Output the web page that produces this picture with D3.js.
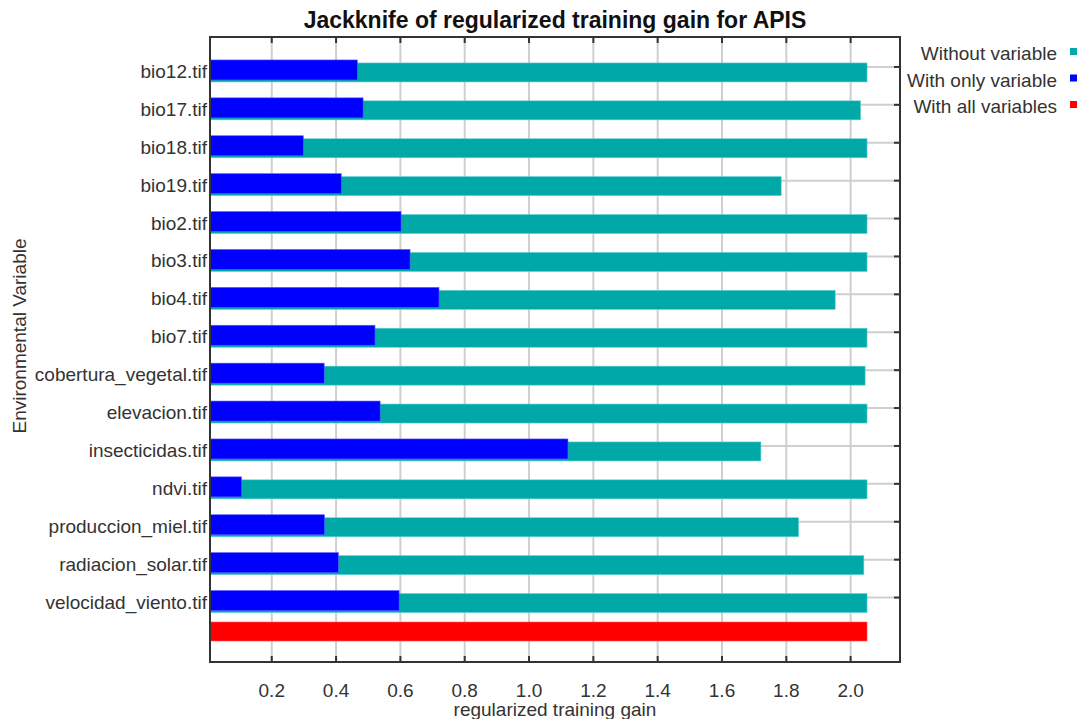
<!DOCTYPE html>
<html>
<head>
<meta charset="utf-8">
<script src="https://cdn.jsdelivr.net/npm/d3@7"></script>
<style>
  html, body { margin: 0; padding: 0; background: #fff; }
  svg { display: block; }
  text { font-family: "Liberation Sans", Arial, sans-serif; fill: #333; }
</style>
</head>
<body>
<svg id="chart" width="1085" height="719"></svg>
<script>
// Environmental variables used in the model
const variables = [
  "bio12.tif", "bio17.tif", "bio18.tif", "bio19.tif", "bio2.tif",
  "bio3.tif", "bio4.tif", "bio7.tif", "cobertura_vegetal.tif",
  "elevacion.tif", "insecticidas.tif", "ndvi.tif", "produccion_miel.tif",
  "radiacion_solar.tif", "velocidad_viento.tif"
];
// Regularized training gain when the variable is left out
const withoutVariable = [
  2.051, 2.031, 2.051, 1.784, 2.051, 2.051, 1.952, 2.051, 2.045,
  2.051, 1.721, 2.051, 1.838, 2.041, 2.051
];
// Gain using only that variable
const withOnlyVariable = [
  0.466, 0.484, 0.298, 0.416, 0.602, 0.630, 0.720, 0.521, 0.363,
  0.537, 1.121, 0.106, 0.364, 0.407, 0.596
];
// Gain with all variables
const withAllVariables = 2.051;
const xTicks = [0.2, 0.4, 0.6, 0.8, 1.0, 1.2, 1.4, 1.6, 1.8, 2.0];
const legendItems = [
  { label: "Without variable", color: "#00a8a8" },
  { label: "With only variable", color: "#0000ff" },
  { label: "With all variables", color: "#ff0000" }
];

const svg = d3.select("#chart");
const plot = { left: 210, right: 900, top: 37, bottom: 662 };
const axisColor = "#333";
const gridColor = "#cfcfcf";

const x = d3.scaleLinear().domain([0.008, 2.1535]).range([plot.left, plot.right]);
const y = d3.scaleBand().domain(variables).range([52, 620.5]).padding(0);
const rowCenter = v => y(v) + y.bandwidth() / 2;

const rows = variables.map((v, i) => ({ name: v, without: withoutVariable[i], only: withOnlyVariable[i] }));

// grid
const grid = svg.append("g");
grid.selectAll("line.v").data(xTicks).join("line")
  .attr("x1", d => x(d)).attr("x2", d => x(d))
  .attr("y1", plot.top).attr("y2", plot.bottom)
  .attr("stroke", gridColor).attr("stroke-width", 2);
grid.selectAll("line.h").data(rows).join("line")
  .attr("x1", plot.left).attr("x2", plot.right)
  .attr("y1", d => rowCenter(d.name) - 4).attr("y2", d => rowCenter(d.name) - 4)
  .attr("stroke", gridColor).attr("stroke-width", 2);

// bars
const bars = svg.append("g");
bars.selectAll("rect.without").data(rows).join("rect")
  .attr("x", x(x.domain()[0]))
  .attr("y", d => rowCenter(d.name) - 8)
  .attr("width", d => x(d.without) - x(x.domain()[0]))
  .attr("height", 19)
  .attr("fill", legendItems[0].color)
  .attr("stroke", "#5fd0d0").attr("stroke-width", 0.6);
bars.selectAll("rect.only").data(rows).join("rect")
  .attr("x", x(x.domain()[0]))
  .attr("y", d => rowCenter(d.name) - 11)
  .attr("width", d => x(d.only) - x(x.domain()[0]))
  .attr("height", 20)
  .attr("fill", legendItems[1].color)
  .attr("stroke", "#5a5aff").attr("stroke-width", 0.6);
bars.append("rect")
  .attr("x", x(x.domain()[0]))
  .attr("y", y.range()[1] + 1.5)
  .attr("width", x(withAllVariables) - x(x.domain()[0]))
  .attr("height", 19)
  .attr("fill", legendItems[2].color)
  .attr("stroke", "#ff6060").attr("stroke-width", 0.6);

// frame
svg.append("rect")
  .attr("x", plot.left).attr("y", plot.top)
  .attr("width", plot.right - plot.left).attr("height", plot.bottom - plot.top)
  .attr("fill", "none").attr("stroke", axisColor).attr("stroke-width", 2);

// tick marks
const ticks = svg.append("g").attr("stroke", axisColor).attr("stroke-width", 2);
ticks.selectAll("line.b").data(xTicks).join("line")
  .attr("x1", d => x(d)).attr("x2", d => x(d))
  .attr("y1", plot.bottom).attr("y2", plot.bottom - 6);
ticks.selectAll("line.t").data(xTicks).join("line")
  .attr("x1", d => x(d)).attr("x2", d => x(d))
  .attr("y1", plot.top).attr("y2", plot.top + 6);
ticks.selectAll("line.r").data(rows).join("line")
  .attr("x1", plot.right).attr("x2", plot.right - 6)
  .attr("y1", d => rowCenter(d.name) - 4).attr("y2", d => rowCenter(d.name) - 4);

// labels
const fs = "19px";
svg.append("g").selectAll("text").data(xTicks).join("text")
  .attr("x", d => x(d)).attr("y", 697)
  .attr("text-anchor", "middle").style("font-size", fs)
  .text(d => d.toFixed(1));
svg.append("g").selectAll("text").data(rows).join("text")
  .attr("x", 207).attr("y", d => rowCenter(d.name) + 7)
  .attr("text-anchor", "end").style("font-size", fs)
  .text(d => d.name);

svg.append("text")
  .attr("x", (plot.left + plot.right) / 2).attr("y", 716)
  .attr("text-anchor", "middle").style("font-size", fs)
  .text("regularized training gain");
svg.append("text")
  .attr("transform", "translate(26,336) rotate(-90)")
  .attr("text-anchor", "middle").style("font-size", fs)
  .text("Environmental Variable");
svg.append("text")
  .attr("x", (plot.left + plot.right) / 2).attr("y", 28)
  .attr("text-anchor", "middle").style("font-size", "23px").style("font-weight", "bold")
  .style("fill", "#111")
  .text("Jackknife of regularized training gain for APIS");

// legend
const legend = svg.append("g");
legendItems.forEach((item, i) => {
  const top = 48 + i * 26.5;
  legend.append("rect").attr("x", 1070).attr("y", top).attr("width", 7).attr("height", 7).attr("fill", item.color);
  legend.append("text").attr("x", 1057).attr("y", top + 12)
    .attr("text-anchor", "end").style("font-size", fs).text(item.label);
});
</script>
</body>
</html>
